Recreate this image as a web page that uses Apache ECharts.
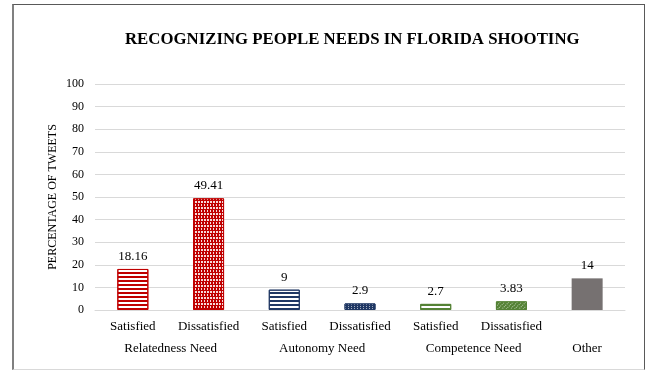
<!DOCTYPE html>
<html>
<head>
<meta charset="utf-8">
<script src="https://cdn.jsdelivr.net/npm/echarts@6/dist/echarts.min.js"></script>
<style>
  html, body { margin: 0; padding: 0; background: #fff; }
  #frame {
    position: absolute; left: 12px; top: 4px; width: 630px; height: 364px;
    border-top: 1px solid #595959; border-right: 1px solid #595959;
    border-left: 2px solid #808080; border-bottom: 1px solid #d9d9d9;
  }
  #chart { position: absolute; left: 0; top: 0; width: 648px; height: 371px; }
</style>
</head>
<body>
<div id="frame"></div>
<div id="chart"></div>
<script>
// categories and values
var categories = ['Satisfied', 'Dissatisfied', 'Satisfied', 'Dissatisfied', 'Satisfied', 'Dissatisfied', ''];
var values = [18.16, 49.41, 9, 2.9, 2.7, 3.83, 14];
var labels = ['18.16', '49.41', '9', '2.9', '2.7', '3.83', '14'];
var groups = ['Relatedness Need', 'Autonomy Need', 'Competence Need', 'Other'];
var groupCenters = [1, 3, 5, 6.5];
var yTicks = [0, 10, 20, 30, 40, 50, 60, 70, 80, 90, 100];

var serif = '"Liberation Serif", "DejaVu Serif", serif';

// per-bar look: colour + decal pattern
var red = '#c00000', navy = '#203864', green = '#548235', gray = '#767171';
var styles = [
  { color: '#fff', borderColor: red, borderWidth: 1,
    decal: { symbol: 'rect', color: red, dashArrayX: [1, 0], dashArrayY: [2, 2], symbolSize: 1, rotation: 0 } },
  { color: red, borderColor: red, borderWidth: 1,
    decal: { symbol: 'rect', color: 'rgba(255,255,255,0.85)', dashArrayX: [[2, 1], [1, 2]], dashArrayY: [2, 1], symbolSize: 1, rotation: 0 } },
  { color: '#fff', borderColor: navy, borderWidth: 1,
    decal: { symbol: 'rect', color: navy, dashArrayX: [1, 0], dashArrayY: [2, 2], symbolSize: 1, rotation: 0 } },
  { color: navy, borderColor: navy, borderWidth: 1,
    decal: { symbol: 'rect', color: 'rgba(255,255,255,0.6)', dashArrayX: [1, 2], dashArrayY: [1, 1], symbolSize: 1, rotation: 0 } },
  { color: '#fff', borderColor: green, borderWidth: 1,
    decal: { symbol: 'rect', color: green, dashArrayX: [1, 0], dashArrayY: [2, 2], symbolSize: 1, rotation: 0 } },
  { color: green, borderColor: green, borderWidth: 1,
    decal: { symbol: 'rect', color: 'rgba(255,255,255,0.6)', dashArrayX: [1, 2], dashArrayY: [1, 1], symbolSize: 1, rotation: 0.785 } },
  { color: gray,
    decal: { symbol: 'rect', color: 'rgba(0,0,0,0)', dashArrayX: [1, 0], dashArrayY: [1, 0], symbolSize: 1, rotation: 0 } }
];

var chart = echarts.init(document.getElementById('chart'), null, { renderer: 'canvas' });

var barData = values.map(function (v, i) {
  return { value: v, itemStyle: styles[i] };
});

var option = {
  animation: false,
  aria: { enabled: true, decal: { show: true } },
  title: {
    text: 'RECOGNIZING PEOPLE NEEDS IN FLORIDA SHOOTING',
    left: 120,
    top: 26,
    textStyle: { fontFamily: serif, fontSize: 16.8, fontWeight: 'bold', color: '#000' }
  },
  grid: { left: 95, right: 23, top: 84, bottom: 61 },
  xAxis: [
    {
      type: 'category',
      data: categories,
      axisLine: { show: true, lineStyle: { color: '#d9d9d9' } },
      axisTick: { show: false },
      axisLabel: { interval: 0, color: '#000', fontFamily: serif, fontSize: 13, margin: 10 }
    },
    {
      type: 'value',
      position: 'bottom',
      min: 0, max: 7,
      axisLine: { show: false },
      axisTick: { show: false },
      splitLine: { show: false },
      axisLabel: {
        customValues: groupCenters,
        color: '#000', fontFamily: serif, fontSize: 13, margin: 32,
        formatter: function (v) {
          var i = groupCenters.indexOf(v);
          return i >= 0 ? groups[i] : '';
        }
      }
    }
  ],
  yAxis: {
    type: 'value',
    min: 0, max: 100, interval: 10,
    name: 'PERCENTAGE OF TWEETS',
    nameLocation: 'middle',
    nameGap: 36,
    nameMoveOverlap: false,
    nameTextStyle: { color: '#000', fontFamily: serif, fontSize: 12 },
    axisLine: { show: false },
    axisTick: { show: false },
    axisLabel: { color: '#000', fontFamily: serif, fontSize: 12, margin: 11,
      formatter: function (v) { return yTicks.indexOf(v) >= 0 ? String(v) : ''; } },
    splitLine: { lineStyle: { color: '#d9d9d9' } }
  },
  series: [{
    type: 'bar',
    xAxisIndex: 0,
    barWidth: 31,
    data: barData,
    label: {
      show: true,
      position: 'top',
      distance: 6,
      color: '#000',
      fontFamily: serif,
      fontSize: 13,
      formatter: function (p) { return labels[p.dataIndex]; }
    }
  }]
};

chart.setOption(option);
</script>
</body>
</html>
